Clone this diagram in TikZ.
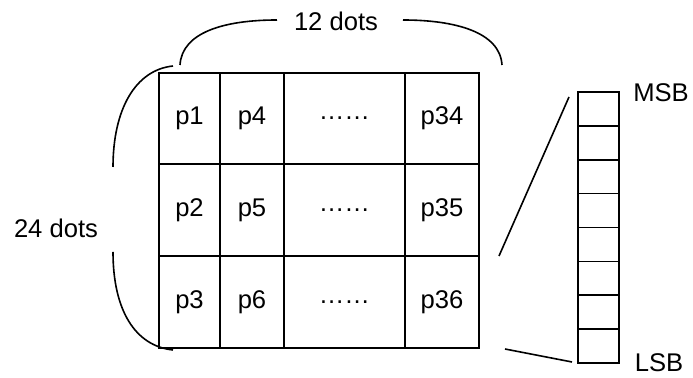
\documentclass[tikz,border=0pt]{standalone}
\usepackage{fontspec}
\setmainfont{Liberation Sans}
\usetikzlibrary{positioning,calc}

\begin{document}
\begin{tikzpicture}[x=0.5pt, y=-0.5pt, font=\fontsize{12.8}{15}\selectfont]

    % Styles
    \tikzset{
        gridLine/.style={black, line width=1pt},
        braceLine/.style={black, line width=0.8pt},
        bitBox/.style={draw, black, line width=0.8pt, minimum width=20.5pt, minimum height=16.94pt, inner sep=0pt},
        cellText/.style={inner sep=1pt},
    }

    % Page frame
    \useasboundingbox (0,0) rectangle (693,378);

    % === PIXEL GRID ===
    \draw[gridLine] (159,73) rectangle (479,348);
    \foreach \y in {164, 256} {
        \draw[gridLine] (159,\y) -- (479,\y);
    }
    \foreach \x in {220, 284, 405} {
        \draw[gridLine] (\x,73) -- (\x,348);
    }

    % Cell labels (column by column)
    \foreach \row/\yy in {1/118.5, 2/210.5, 3/302.5} {
        \node[cellText] (p\row) at (189.5,\yy) {p\row};
    }
    \node[cellText] (p4) at (252,118.5) {p4};
    \node[cellText] (p5) at (252,210.5) {p5};
    \node[cellText] (p6) at (252,302.5) {p6};
    \foreach \row/\yy in {1/118.5, 2/210.5, 3/302.5} {
        \node[cellText] (dots\row) at (344.5,\yy) {……};
    }
    \node[cellText] (p34) at (442,118.5) {p34};
    \node[cellText] (p35) at (442,210.5) {p35};
    \node[cellText] (p36) at (442,302.5) {p36};

    % === BRACES ===
    % width brace
    \node (width) at (336,21) {12 dots};
    \draw[braceLine] (180,65) .. controls (182,32) and (225,20) .. (277,20);
    \draw[braceLine] (403,20) .. controls (455,20) and (500,32) .. (502,65);

    % height brace
    \node (height) at (56,228) {24 dots};
    \draw[braceLine] (173,66) .. controls (135,70) and (113,110) .. (113,167);
    \draw[braceLine] (113,252) .. controls (113,310) and (135,346) .. (173,350);

    % === BIT STACK ===
    \foreach \i in {0,...,7} {
        \node[bitBox] (bit\i) at (598.5,{92+33.875*(\i+0.5)}) {};
    }
    \node (msb) at (661,93) {MSB};
    \node (lsb) at (659,363) {LSB};

    % zoom lines from the grid to the stack
    \coordinate (zoomTopA) at (499,256);
    \coordinate (zoomTopB) at (569,97);
    \coordinate (zoomBotA) at (505,349);
    \coordinate (zoomBotB) at (572,362);
    \draw[braceLine] (zoomTopA) -- (zoomTopB);
    \draw[braceLine] (zoomBotA) -- (zoomBotB);

\end{tikzpicture}
\end{document}
